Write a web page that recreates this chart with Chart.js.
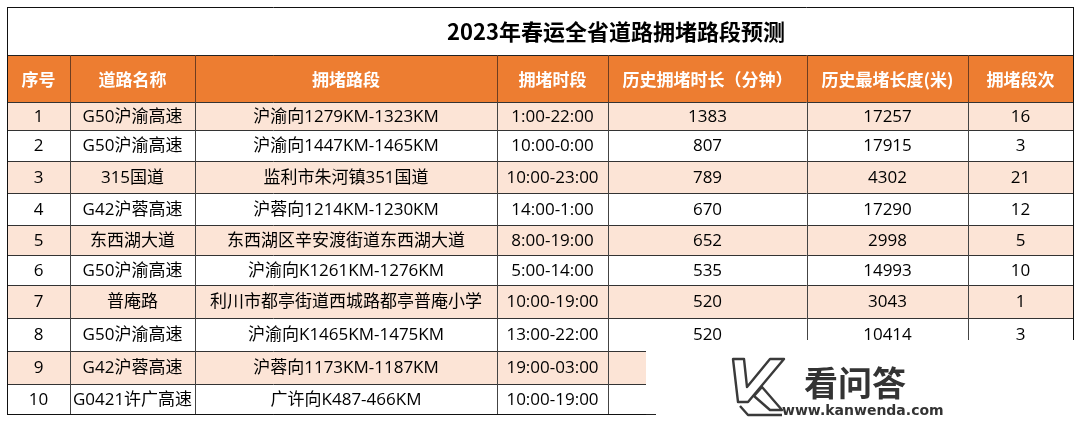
<!DOCTYPE html>
<html><head><meta charset="utf-8">
<script src="https://cdn.jsdelivr.net/npm/chart.js@4.4.1/dist/chart.umd.min.js"></script>
<style>html,body{margin:0;padding:0;background:#fff;overflow:hidden}#wrap{width:1080px;height:422px;position:relative}</style>
</head><body><div id="wrap"><canvas id="c" width="1080" height="422"></canvas></div>
<script>
// ---- data ----
const titleText = '2023年春运全省道路拥堵路段预测';
const headers = ['序号','道路名称','拥堵路段','拥堵时段','历史拥堵时长（分钟）','历史最堵长度(米)','拥堵段次'];
const seqNo = ['1','2','3','4','5','6','7','8','9','10'];
const roadNames = ['G50沪渝高速','G50沪渝高速','315国道','G42沪蓉高速','东西湖大道','G50沪渝高速','普庵路','G50沪渝高速','G42沪蓉高速','G0421许广高速'];
const segments = ['沪渝向1279KM-1323KM','沪渝向1447KM-1465KM','监利市朱河镇351国道','沪蓉向1214KM-1230KM','东西湖区辛安渡街道东西湖大道','沪渝向K1261KM-1276KM','利川市都亭街道西城路都亭普庵小学','沪渝向K1465KM-1475KM','沪蓉向1173KM-1187KM','广许向K487-466KM'];
const periods = ['1:00-22:00','10:00-0:00','10:00-23:00','14:00-1:00','8:00-19:00','5:00-14:00','10:00-19:00','13:00-22:00','19:00-03:00','10:00-19:00'];
const durations = [1383,807,789,670,652,535,520,520,null,null];
const maxLengths = [17257,17915,4302,17290,2998,14993,3043,10414,null,null];
const segCounts = [16,3,21,12,5,10,1,3,null,null];
const watermarkName = '看问答';
const watermarkUrl = 'www.kanwenda.com';

// ---- layout (pixel units of the linear scales) ----
const colEdges = [7,70,195,497,608,807,968,1073];
const titleBand = [7,55];
const headerBand = [55,102];
const rowEdges = [102,130,161,193,225,255,285,318,351,384,414];
const FONT = '"Open Sans","Noto Sans CJK SC",sans-serif';
const TFONT = '"Noto Sans CJK SC",sans-serif';

const tablePlugin = {
  id: 'tablePlugin',
  beforeDatasetsDraw(chart) {
    const ctx = chart.ctx;
    const sx = chart.scales.x, sy = chart.scales.y;
    const X = v => sx.getPixelForValue(v);
    const Y = v => sy.getPixelForValue(v);
    const L = colEdges[0], R = colEdges[colEdges.length-1];
    ctx.save();
    ctx.fillStyle = '#fff';
    ctx.fillRect(0,0,chart.width,chart.height);
    ctx.fillStyle = '#ED7D31';
    ctx.fillRect(X(L), Y(headerBand[0]), X(R)-X(L), Y(headerBand[1])-Y(headerBand[0]));
    for (let i=0;i<seqNo.length;i++){
      ctx.fillStyle = (i%2===0) ? '#FCE4D6' : '#FFFFFF';
      ctx.fillRect(X(L), Y(rowEdges[i]), X(R)-X(L), Y(rowEdges[i+1])-Y(rowEdges[i]));
    }
    ctx.textBaseline = 'middle';
    ctx.fillStyle = '#000';
    ctx.font = 'bold 22px ' + TFONT;
    ctx.textAlign = 'left';
    ctx.fillText(titleText, X(447), Y((titleBand[0]+titleBand[1])/2)+1);
    ctx.textAlign = 'center';
    ctx.fillStyle = '#fff';
    ctx.font = 'bold 17px ' + TFONT;
    headers.forEach((h,j)=>{
      ctx.fillText(h, X((colEdges[j]+colEdges[j+1])/2), Y((headerBand[0]+headerBand[1])/2)+1);
    });
    ctx.fillStyle = '#000';
    ctx.font = '17px ' + FONT;
    const cols = [seqNo, roadNames, segments, periods, durations, maxLengths, segCounts];
    for (let i=0;i<seqNo.length;i++){
      const yc = Y((rowEdges[i]+rowEdges[i+1])/2)+1;
      cols.forEach((arr,j)=>{
        const v = arr[i];
        if (v===null || v===undefined) return;
        ctx.fillText(String(v), X((colEdges[j]+colEdges[j+1])/2), yc);
      });
    }
    ctx.lineWidth = 1;
    const hline = (y,x0,x1,c)=>{ctx.strokeStyle=c;ctx.beginPath();ctx.moveTo(X(x0),Math.round(Y(y))+0.5);ctx.lineTo(X(x1),Math.round(Y(y))+0.5);ctx.stroke();};
    const vline = (x,y0,y1,c)=>{ctx.strokeStyle=c;ctx.beginPath();ctx.moveTo(Math.round(X(x))+0.5,Y(y0));ctx.lineTo(Math.round(X(x))+0.5,Y(y1));ctx.stroke();};
    hline(headerBand[0], L, R, '#222');
    rowEdges.forEach(y=>hline(y, L, R, '#333'));
    for (let j=1;j<colEdges.length-1;j++){
      vline(colEdges[j], headerBand[0], headerBand[1], '#6e3d20');
      vline(colEdges[j], rowEdges[0], rowEdges[rowEdges.length-1], '#444');
    }
    hline(titleBand[0], L, R, '#111');
    vline(L, titleBand[0], rowEdges[rowEdges.length-1], '#111');
    vline(R, titleBand[0], rowEdges[rowEdges.length-1], '#111');
    hline(rowEdges[rowEdges.length-1], L, R, '#111');

    // watermark cover
    ctx.fillStyle = '#fff';
    ctx.fillRect(X(646), Y(340), X(1080)-X(646), Y(422)-Y(340));
    ctx.strokeStyle = '#222';
    ctx.beginPath(); ctx.moveTo(X(646), Math.round(Y(414))+0.5); ctx.lineTo(X(656), Math.round(Y(414))+0.5); ctx.stroke();
    // logo K (outlined)
    ctx.lineWidth = 2.4;
    ctx.strokeStyle = '#3a3a3a';
    ctx.lineJoin = 'round';
    ctx.beginPath();
    ctx.moveTo(X(733),Y(359)); ctx.lineTo(X(744),Y(359)); ctx.lineTo(X(747),Y(387)); ctx.lineTo(X(770),Y(359));
    ctx.lineTo(X(784),Y(359)); ctx.lineTo(X(748),Y(402)); ctx.lineTo(X(738),Y(402)); ctx.closePath();
    ctx.stroke();
    ctx.beginPath();
    ctx.moveTo(X(754),Y(396)); ctx.lineTo(X(762),Y(387)); ctx.lineTo(X(782),Y(410)); ctx.lineTo(X(770),Y(410)); ctx.closePath();
    ctx.stroke();
    ctx.beginPath();
    ctx.moveTo(X(740),Y(406)); ctx.lineTo(X(748),Y(415)); ctx.lineTo(X(782),Y(415));
    ctx.stroke();
    ctx.fillStyle = '#333';
    ctx.textAlign = 'left';
    ctx.font = 'bold 34px ' + TFONT;
    ctx.fillText(watermarkName, X(804), Y(383));
    ctx.font = 'bold 14px "DejaVu Sans",sans-serif';
    ctx.fillText(watermarkUrl, X(782), Y(411));
    ctx.restore();
  }
};

new Chart(document.getElementById('c'), {
  type: 'scatter',
  data: { datasets: [{ data: [], pointRadius: 0 }] },
  options: {
    responsive: false,
    animation: false,
    devicePixelRatio: 1,
    layout: { padding: 0 },
    plugins: { legend: { display: false }, tooltip: { enabled: false } },
    scales: {
      x: { type: 'linear', min: 0, max: 1080, display: false },
      y: { type: 'linear', min: 0, max: 422, reverse: true, display: false }
    }
  },
  plugins: [tablePlugin]
});
</script>
</body></html>
